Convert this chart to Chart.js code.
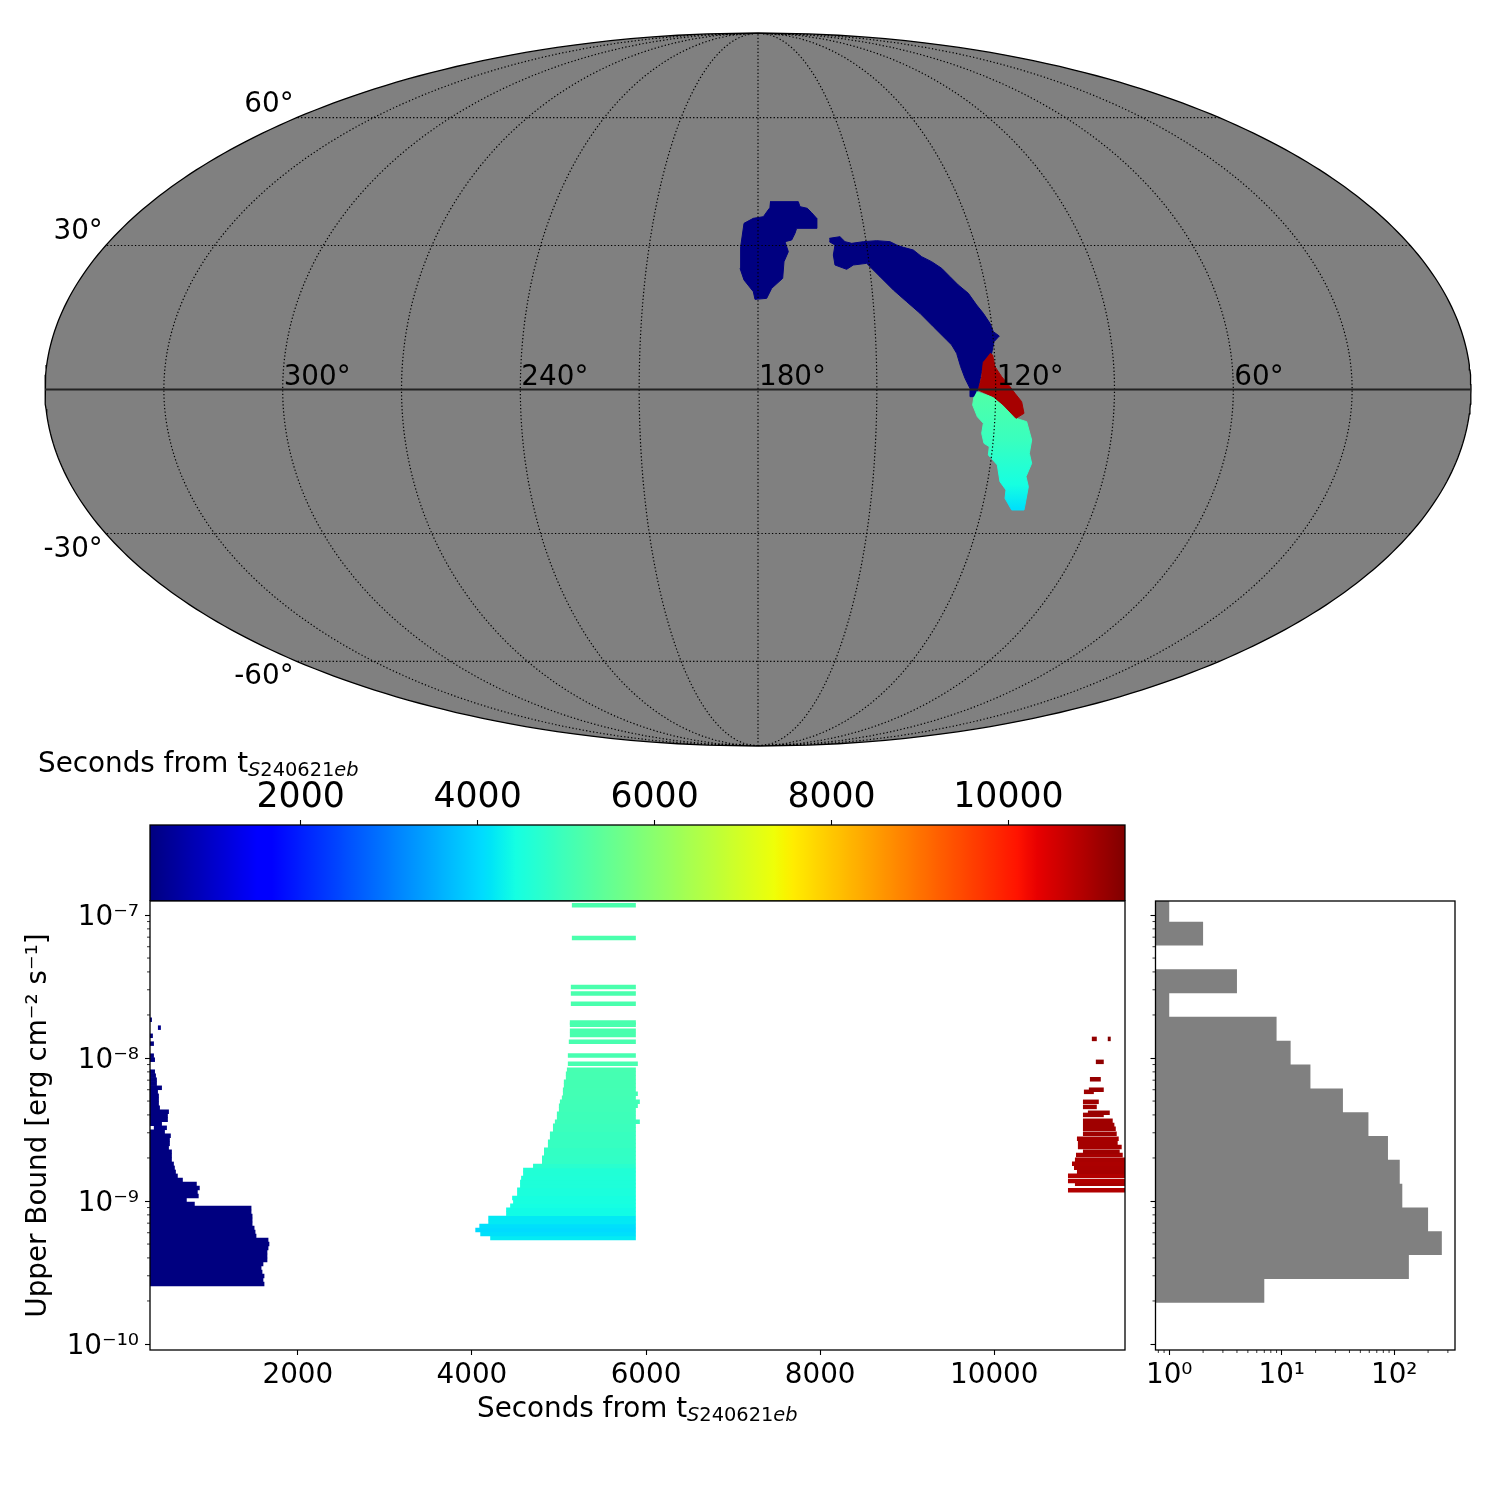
<!DOCTYPE html>
<html>
<head>
<meta charset="utf-8">
<title>S240621eb</title>
<script src="https://cdn.jsdelivr.net/npm/chart.js@4/dist/chart.umd.js"></script>
<style>
  body { margin: 0; background: #fff; }
  canvas { position: absolute; }
</style>
</head>
<body>
<canvas id="sky" width="1500" height="760" style="left:0;top:0"></canvas>
<canvas id="colorbar" width="1500" height="156" style="left:0;top:745px"></canvas>
<canvas id="bounds" width="1140" height="600" style="left:0;top:900px"></canvas>
<canvas id="hist" width="360" height="520" style="left:1140px;top:890px"></canvas>
<script>
// colour scale limits, seconds from the event
const timeMin = 297;
const timeMax = 11317;
const colorbarTicks = [2000, 4000, 6000, 8000, 10000];
const timeTicks = [2000, 4000, 6000, 8000, 10000];
const boundTicks = [1e-10, 1e-9, 1e-8, 1e-7];
const boundTickLabels = ['10⁻¹⁰', '10⁻⁹', '10⁻⁸', '10⁻⁷'];
const countTicks = [1, 10, 100];
const countTickLabels = ['10⁰', '10¹', '10²'];
const lonLabels = [300, 240, 180, 120, 60];
const latLabels = [60, 30, -30, -60];

// sky regions, Mollweide plane (x, y) with the ellipse running -180..180, -90..90
const skyEarly1 = [[3.03,47.42],[10.18,47.42],[10.60,46.16],[12.45,45.74],[13.55,44.64],[14.81,43.21],[14.81,40.69],[9.76,40.69],[9.34,39.42],[8.50,37.74],[6.82,37.32],[7.66,34.80],[6.56,32.27],[6.23,28.06],[3.45,25.54],[2.19,23.01],[-0.76,22.76],[-1.18,24.70],[-3.53,27.64],[-4.54,30.59],[-4.38,36.06],[-3.53,41.95],[-1.18,43.21],[1.35,43.63],[2.86,45.74]];
const skyEarly2 = [[18.01,38.16],[20.70,38.58],[21.96,37.32],[23.65,36.90],[26.59,37.32],[29.96,37.57],[33.32,37.32],[35.01,36.48],[36.69,35.89],[39.21,35.21],[41.32,33.53],[43.84,32.27],[46.37,30.59],[48.47,28.49],[50.57,26.38],[53.10,24.28],[55.20,21.33],[56.89,19.23],[58.57,16.70],[59.41,14.60],[60.92,13.50],[59.58,12.07],[58.99,9.13],[56.89,6.61],[56.21,3.24],[55.62,0.29],[54.78,-1.81],[53.52,-1.81],[53.52,0.29],[52.26,2.82],[51.16,5.76],[50.15,9.13],[48.89,11.24],[47.63,12.50],[44.26,15.86],[40.90,19.23],[37.53,22.17],[34.17,25.12],[30.80,28.49],[27.43,31.85],[24.07,31.43],[22.38,30.34],[19.44,31.43],[19.02,33.95],[19.44,36.48],[18.01,37.32]];
const skyMiddle = [[55.20,-0.55],[59.41,-1.98],[61.94,-4.17],[65.13,-7.28],[67.82,-8.12],[69.09,-12.75],[68.50,-16.11],[69.09,-18.64],[67.66,-22.00],[68.25,-24.53],[67.40,-29.16],[67.15,-30.42],[64.04,-30.42],[62.36,-27.48],[62.61,-25.37],[61.09,-23.27],[60.42,-19.06],[58.15,-16.53],[58.40,-14.43],[57.05,-13.59],[56.47,-11.07],[56.89,-8.54],[55.37,-6.86],[54.19,-3.91],[54.53,-1.81]];
const skyLate = [[58.57,9.13],[59.24,8.71],[59.83,5.76],[61.51,3.24],[63.62,0.72],[64.88,-0.97],[66.56,-3.07],[67.15,-6.02],[65.13,-7.28],[61.94,-3.91],[59.41,-1.81],[55.62,-0.13],[56.47,3.24],[56.89,7.03]];
// plane y -> start time inside the middle region
const skyMiddleY = [-2, -13, -24, -30];
const skyMiddleTimes = [5200, 4900, 4450, 4100];
const skyEarlyTime = 300;
const skyLateTime = 10950;

// upper bound rows: [bound, start, end]
const earlyRows = [
  [2.63e-10,300,1616],[2.80e-10,300,1604],[2.99e-10,300,1616],[3.19e-10,300,1593],[3.40e-10,300,1582],[3.63e-10,300,1604],
  [3.87e-10,300,1650],[4.13e-10,300,1650],[4.40e-10,300,1650],[4.70e-10,300,1662],[5.01e-10,300,1673],[5.34e-10,300,1662],
  [5.70e-10,300,1524],[6.08e-10,300,1513],[6.48e-10,300,1502],[6.91e-10,300,1479],[7.37e-10,300,1479],[7.86e-10,300,1479],
  [8.39e-10,300,1467],[8.95e-10,300,1467],[9.54e-10,300,816],[1.018e-9,300,724],[1.086e-9,300,861],[1.158e-9,300,850],
  [1.235e-9,300,873],[1.317e-9,300,839],[1.405e-9,300,679],[1.499e-9,300,621],[1.598e-9,300,599],[1.705e-9,300,587],
  [1.818e-9,300,576],[1.939e-9,300,553],[2.07e-9,300,553],[2.21e-9,300,553],[2.35e-9,300,519],[2.51e-9,300,530],
  [2.68e-9,300,530],[2.86e-9,300,541],[3.05e-9,300,473],[3.25e-9,346,496],[3.47e-9,300,439],[3.70e-9,300,507],
  [3.94e-9,300,507],[4.21e-9,300,519],[4.49e-9,300,416],[4.78e-9,300,404],[5.10e-9,300,404],[5.44e-9,300,404],
  [5.81e-9,300,393],[6.19e-9,300,439],[6.61e-9,300,381],[7.05e-9,300,381],[7.52e-9,300,370],[8.02e-9,300,359],
  [9.73e-9,300,359],[1.038e-8,300,347],[1.26e-8,300,347],[1.43e-8,300,335],[1.63e-8,393,427],[1.855e-8,300,324]
];
const middleRows = [
  [1.17e-7,5148,5883],[6.9e-8,5148,5883],[3.14e-8,5136,5883],[2.82e-8,5136,5883],[2.40e-8,5136,5883],[1.77e-8,5125,5883],
  [1.71e-8,5125,5883],[1.55e-8,5125,5883],[1.45e-8,5125,5883],[1.30e-8,5113,5883],[1.04e-8,5102,5883],[9.12e-9,5102,5906],
  [8.28e-9,5091,5883],[7.77e-9,5079,5883],[7.28e-9,5079,5883],[6.83e-9,5056,5883],[6.40e-9,5056,5883],[6.00e-9,5045,5883],
  [5.62e-9,5045,5906],[5.27e-9,5033,5883],[4.94e-9,5011,5929],[4.63e-9,4999,5906],[4.35e-9,4999,5883],[4.08e-9,4976,5883],
  [3.82e-9,4976,5883],[3.58e-9,4953,5929],[3.36e-9,4931,5883],[3.15e-9,4931,5883],[2.95e-9,4896,5883],[2.77e-9,4896,5883],
  [2.60e-9,4873,5883],[2.43e-9,4873,5883],[2.28e-9,4828,5883],[2.14e-9,4828,5883],[2.01e-9,4805,5883],[1.88e-9,4805,5883],
  [1.76e-9,4702,5883],[1.65e-9,4588,5883],[1.55e-9,4588,5883],[1.45e-9,4565,5883],[1.36e-9,4553,5883],[1.28e-9,4553,5883],
  [1.20e-9,4519,5883],[1.12e-9,4519,5883],[1.05e-9,4462,5883],[9.87e-10,4473,5883],[9.25e-10,4439,5883],[8.67e-10,4393,5883],
  [8.13e-10,4393,5883],[7.62e-10,4188,5883],[7.14e-10,4188,5883],[6.70e-10,4085,5883],[6.28e-10,4039,5883],[5.89e-10,4096,5883],
  [5.52e-10,4210,5883]
];
const lateRows = [
  [1.36e-8,11121,11178],[1.36e-8,11304,11338],[9.4e-9,11167,11258],[7.1e-9,11099,11224],[6.0e-9,11087,11258],[5.8e-9,11030,11144],
  [4.94e-9,11019,11201],[4.55e-9,11019,11178],[4.14e-9,11076,11327],[4.0e-9,11019,11258],[3.64e-9,11019,11361],[3.40e-9,11019,11380],
  [3.2e-9,11019,11396],[2.95e-9,11019,11407],[2.72e-9,10950,11430],[2.55e-9,10961,11418],[2.39e-9,10961,11464],[2.21e-9,11019,11441],
  [2.1e-9,10939,11476],[1.94e-9,10927,11520],[1.82e-9,10893,11520],[1.705e-9,10916,11520],[1.6e-9,10950,11520],[1.5e-9,10847,11520],
  [1.38e-9,10847,11520],[1.32e-9,10927,11520],[1.19e-9,10847,11520]
];

// histogram of the upper bounds
const histEdges = [1.945e-10,2.85e-10,4.19e-10,6.14e-10,9.02e-10,1.32e-9,1.94e-9,2.85e-9,4.18e-9,6.12e-9,8.99e-9,1.32e-8,1.94e-8,2.84e-8,4.17e-8,6.11e-8,8.97e-8,1.32e-7];
const histCounts = [7,135,265,200,118,112,88,59,35,18,12,9,1,4,0,2,1];

const FONT = '"DejaVu Sans"';
const GRAY = '#808080';
const minorBoundTicks = [-10, -9, -8].flatMap((d) => [2, 3, 4, 5, 6, 7, 8, 9].map((m) => Number(`${m}e${d}`)));
const minorCountTicks = [0.8, 0.9, 2, 3, 4, 5, 6, 7, 8, 9, 20, 30, 40, 50, 60, 70, 80, 90, 200, 300];

const jetKnots = {
  r: [[0, 0], [0.35, 0], [0.66, 1], [0.89, 1], [1, 0.5]],
  g: [[0, 0], [0.125, 0], [0.375, 1], [0.64, 1], [0.91, 0], [1, 0]],
  b: [[0, 0.5], [0.11, 1], [0.34, 1], [0.65, 0], [1, 0]],
};

const jetChannel = (knots, f) => {
  for (let i = 1; i < knots.length; i++) {
    if (f <= knots[i][0]) {
      const [x0, y0] = knots[i - 1];
      const [x1, y1] = knots[i];
      return Math.round(255 * (y0 + ((f - x0) / (x1 - x0)) * (y1 - y0)));
    }
  }
  return Math.round(255 * knots[knots.length - 1][1]);
};

const jetFraction = (f) => {
  const c = Math.min(1, Math.max(0, f));
  return `rgb(${jetChannel(jetKnots.r, c)},${jetChannel(jetKnots.g, c)},${jetChannel(jetKnots.b, c)})`;
};
const jetTime = (t) => jetFraction((t - timeMin) / (timeMax - timeMin));

// Mollweide, returns plane coordinates for the sky chart
const moll = (lon, lat) => {
  const phi = (lat * Math.PI) / 180;
  let th = phi;
  if (Math.abs(lat) !== 90) {
    for (let i = 0; i < 30; i++) {
      th -= (2 * th + Math.sin(2 * th) - Math.PI * Math.sin(phi)) / (2 + 2 * Math.cos(2 * th));
    }
  }
  return { x: (180 - lon) * Math.cos(th), y: 90 * Math.sin(th) };
};

const range = (a, b, step) => {
  const out = [];
  for (let v = a; v <= b; v += step) out.push(v);
  return out;
};

const toPoints = (region) => region.map(([x, y]) => ({ x, y }));

const polygon = (region, color) => ({
  data: toPoints(region),
  showLine: true,
  fill: 'shape',
  backgroundColor: color,
  borderColor: color,
  borderWidth: 1,
  pointRadius: 0,
  tension: 0,
});

const gridLine = (data, extra = {}) => ({
  data,
  showLine: true,
  fill: false,
  borderColor: '#000',
  borderWidth: 1.2,
  borderDash: [1.3, 2.2],
  pointRadius: 0,
  tension: 0,
  ...extra,
});

const meridians = range(30, 330, 30).map((lon) => gridLine(range(-90, 90, 2).map((lat) => moll(lon, lat))));
const parallels = [-60, -30, 30, 60].map((lat) => gridLine([moll(0, lat), moll(360, lat)]));
const equator = gridLine([moll(0, 0), moll(360, 0)], { borderDash: [], borderColor: '#222', borderWidth: 1.8 });
const ellipse = [...range(-90, 90, 1).map((lat) => moll(0, lat)), ...range(-90, 90, 1).reverse().map((lat) => moll(360, lat))];

const skyMiddleGradient = (ctx) => {
  const { chart } = ctx;
  if (!chart.chartArea) return jetTime(skyMiddleTimes[0]);
  const scale = chart.scales.y;
  const top = scale.getPixelForValue(skyMiddleY[0]);
  const bottom = scale.getPixelForValue(skyMiddleY[skyMiddleY.length - 1]);
  const grad = chart.ctx.createLinearGradient(0, top, 0, bottom);
  skyMiddleY.forEach((y, i) => {
    grad.addColorStop((scale.getPixelForValue(y) - top) / (bottom - top), jetTime(skyMiddleTimes[i]));
  });
  return grad;
};

const frame = {
  id: 'frame',
  afterDraw(chart) {
    const { ctx, chartArea: a } = chart;
    ctx.save();
    ctx.strokeStyle = '#000';
    ctx.lineWidth = 1.3;
    ctx.strokeRect(a.left, a.top, a.right - a.left, a.bottom - a.top);
    ctx.restore();
  },
};

const minorTicks = (xValues, yValues) => ({
  id: 'minorTicks',
  afterDraw(chart) {
    const { ctx, chartArea: a, scales } = chart;
    ctx.save();
    ctx.strokeStyle = '#000';
    ctx.lineWidth = 0.8;
    ctx.beginPath();
    xValues.forEach((v) => {
      const px = scales.x.getPixelForValue(v);
      ctx.moveTo(px, a.bottom);
      ctx.lineTo(px, a.bottom + 3);
    });
    yValues.forEach((v) => {
      const py = scales.y.getPixelForValue(v);
      ctx.moveTo(a.left, py);
      ctx.lineTo(a.left - 3, py);
    });
    ctx.stroke();
    ctx.restore();
  },
});

// "Seconds from t" with the event name as a subscript
const timeLabel = (dx, dy) => ({
  id: 'timeLabel',
  afterDraw(chart) {
    const { ctx, chartArea: a } = chart;
    let x = a.left + dx;
    const y = dy < 0 ? a.top + dy : a.bottom + dy;
    const parts = [
      ['Seconds from t', `27.8px ${FONT}`, 0],
      ['S', `italic 19.4px ${FONT}`, 4],
      ['240621', `19.4px ${FONT}`, 4],
      ['eb', `italic 19.4px ${FONT}`, 4],
    ];
    ctx.save();
    ctx.fillStyle = '#000';
    ctx.textAlign = 'left';
    ctx.textBaseline = 'alphabetic';
    parts.forEach(([text, font, drop]) => {
      ctx.font = font;
      ctx.fillText(text, x, y + drop);
      x += ctx.measureText(text).width;
    });
    ctx.restore();
  },
});

const skyLabels = {
  id: 'skyLabels',
  afterDatasetsDraw(chart) {
    const { ctx, scales } = chart;
    ctx.save();
    ctx.fillStyle = '#000';
    ctx.font = `27.8px ${FONT}`;
    ctx.textBaseline = 'alphabetic';
    ctx.textAlign = 'left';
    lonLabels.forEach((lon) => {
      const p = moll(lon, 0);
      ctx.fillText(`${lon}°`, scales.x.getPixelForValue(p.x) + 1, scales.y.getPixelForValue(0) - 5);
    });
    ctx.textAlign = 'right';
    latLabels.forEach((lat) => {
      const p = moll(360, lat);
      const py = scales.y.getPixelForValue(p.y) + (lat > 0 ? -6 : 23);
      ctx.fillText(`${lat}°`, scales.x.getPixelForValue(p.x) - 3, py);
    });
    ctx.restore();
  },
};

// keep the plot boxes where they are whatever the tick labels measure
const fixedSize = (size) => (scale) => {
  if (scale.isHorizontal()) scale.height = size;
  else scale.width = size;
  scale.paddingTop = 0;
  scale.paddingBottom = 0;
  scale.paddingLeft = 0;
  scale.paddingRight = 0;
};

const tickGrid = { drawOnChartArea: false, tickLength: 5, tickColor: '#000', tickWidth: 1.1 };

const baseOptions = {
  responsive: false,
  animation: false,
  events: [],
  layout: { autoPadding: false },
  plugins: { legend: { display: false }, tooltip: { enabled: false } },
};

new Chart(document.getElementById('sky'), {
  type: 'scatter',
  data: {
    datasets: [
      equator,
      ...meridians,
      ...parallels,
      polygon(skyLate, jetTime(skyLateTime)),
      polygon(skyMiddle, skyMiddleGradient),
      polygon(skyEarly1, jetTime(skyEarlyTime)),
      polygon(skyEarly2, jetTime(skyEarlyTime)),
      {
        data: ellipse,
        showLine: true,
        fill: 'shape',
        backgroundColor: GRAY,
        borderColor: '#000',
        borderWidth: 1.3,
        pointRadius: 0,
        tension: 0,
        clip: false,
      },
    ],
  },
  options: {
    ...baseOptions,
    layout: { autoPadding: false, padding: { left: 45, right: 29, top: 33, bottom: 14 } },
    scales: {
      x: { display: false, min: -180, max: 180 },
      y: { display: false, min: -90, max: 90 },
    },
  },
  plugins: [skyLabels],
});

const colorbarFill = (ctx) => {
  const { chart } = ctx;
  if (!chart.chartArea) return GRAY;
  const left = chart.scales.x.getPixelForValue(timeMin);
  const right = chart.scales.x.getPixelForValue(timeMax);
  const grad = chart.ctx.createLinearGradient(left, 0, right, 0);
  range(0, 200, 1).forEach((i) => grad.addColorStop(i / 200, jetFraction(i / 200)));
  return grad;
};

new Chart(document.getElementById('colorbar'), {
  type: 'bar',
  data: {
    labels: ['time'],
    datasets: [{ data: [[timeMin, timeMax]], backgroundColor: colorbarFill, barPercentage: 1, categoryPercentage: 1 }],
  },
  options: {
    ...baseOptions,
    indexAxis: 'y',
    layout: { autoPadding: false, padding: { left: 150, right: 375, top: 0, bottom: 0 } },
    scales: {
      x: {
        position: 'top',
        min: timeMin,
        max: timeMax,
        afterBuildTicks: (scale) => { scale.ticks = colorbarTicks.map((value) => ({ value })); },
        afterFit: fixedSize(80),
        border: { display: false },
        grid: tickGrid,
        ticks: {
          autoSkip: false,
          maxRotation: 0,
          padding: 1,
          color: '#000',
          font: { family: 'DejaVu Sans', size: 34.7 },
          callback: (v) => String(v),
        },
      },
      y: { display: false },
    },
  },
  plugins: [frame, timeLabel(-112, -53)],
});

const boundRows = [...earlyRows, ...middleRows, ...lateRows];

new Chart(document.getElementById('bounds'), {
  type: 'scatter',
  data: {
    datasets: boundRows.map(([ub, t0, t1]) => ({
      data: [{ x: t0, y: ub }, { x: t1, y: ub }],
      showLine: true,
      borderColor: jetTime(t0),
      borderWidth: 4.5,
      borderCapStyle: 'butt',
      pointRadius: 0,
      clip: 0,
    })),
  },
  options: {
    ...baseOptions,
    layout: { autoPadding: false, padding: { left: 10, right: 15, top: 1, bottom: 100 } },
    scales: {
      x: {
        min: 302,
        max: 11502,
        afterBuildTicks: (scale) => { scale.ticks = timeTicks.map((value) => ({ value })); },
        afterFit: fixedSize(50),
        border: { display: false },
        grid: tickGrid,
        ticks: {
          autoSkip: false,
          maxRotation: 0,
          padding: 4,
          color: '#000',
          font: { family: 'DejaVu Sans', size: 27.8 },
          callback: (v) => String(v),
        },
      },
      y: {
        type: 'logarithmic',
        min: 9.08e-11,
        max: 1.253e-7,
        afterBuildTicks: (scale) => { scale.ticks = boundTicks.map((value) => ({ value })); },
        afterFit: fixedSize(140),
        border: { display: false },
        grid: tickGrid,
        title: {
          display: true,
          text: 'Upper Bound [erg cm⁻² s⁻¹]',
          color: '#000',
          font: { family: 'DejaVu Sans', size: 27.8 },
          padding: { top: 12, bottom: 0 },
        },
        ticks: {
          autoSkip: false,
          padding: 6,
          labelOffset: 3,
          color: '#000',
          font: { family: 'DejaVu Sans', size: 27.8 },
          callback: (v) => boundTickLabels[boundTicks.indexOf(v)],
        },
      },
    },
  },
  plugins: [frame, minorTicks([], minorBoundTicks), timeLabel(327, 67)],
});

// stepped outline of the horizontal histogram, closed below the x axis minimum
const histFloor = 0.5;
const histOutline = [{ x: histFloor, y: histEdges[0] }];
histCounts.forEach((count, i) => {
  const x = count || histFloor;
  histOutline.push({ x, y: histEdges[i] }, { x, y: histEdges[i + 1] });
});
histOutline.push({ x: histFloor, y: histEdges[histEdges.length - 1] });

new Chart(document.getElementById('hist'), {
  type: 'scatter',
  data: {
    datasets: [{
      data: histOutline,
      showLine: true,
      fill: 'shape',
      backgroundColor: GRAY,
      borderWidth: 0,
      pointRadius: 0,
      tension: 0,
    }],
  },
  options: {
    ...baseOptions,
    layout: { autoPadding: false, padding: { left: 5, right: 45, top: 11, bottom: 10 } },
    scales: {
      x: {
        type: 'logarithmic',
        min: 0.755,
        max: 347,
        afterBuildTicks: (scale) => { scale.ticks = countTicks.map((value) => ({ value })); },
        afterFit: fixedSize(50),
        border: { display: false },
        grid: tickGrid,
        ticks: {
          autoSkip: false,
          maxRotation: 0,
          padding: 4,
          color: '#000',
          font: { family: 'DejaVu Sans', size: 27.8 },
          callback: (v) => countTickLabels[countTicks.indexOf(v)],
        },
      },
      y: {
        type: 'logarithmic',
        min: 9.08e-11,
        max: 1.253e-7,
        afterBuildTicks: (scale) => { scale.ticks = boundTicks.map((value) => ({ value })); },
        afterFit: fixedSize(10.5),
        border: { display: false },
        grid: tickGrid,
        ticks: { display: false, autoSkip: false },
      },
    },
  },
  plugins: [frame, minorTicks(minorCountTicks, minorBoundTicks)],
});
</script>
</body>
</html>
